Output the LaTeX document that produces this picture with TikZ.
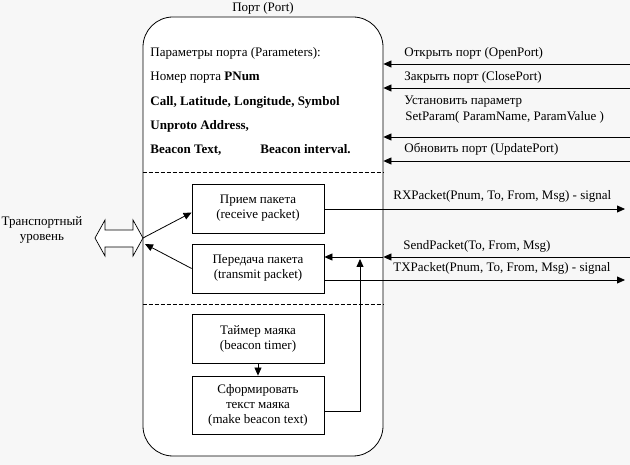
\documentclass[tikz,border=0pt]{standalone}
\usepackage{fontspec}
\setmainfont{Liberation Serif}
\usetikzlibrary{arrows.meta,positioning}
\tikzset{
  blok/.style={draw, fill=white, minimum width=132pt, minimum height=49pt,
    align=center, inner sep=1pt},
  tip/.style={-{Triangle[length=8pt,width=7pt]}},
  lbl/.style={anchor=base west, inner sep=0pt},
}
\begin{document}
\begin{tikzpicture}[x=1pt, y=-1pt, line width=0.8pt,
    font=\fontsize{13}{15}\selectfont]
  \fill [black!3] (0,0) rectangle (630,465) ;
  \useasboundingbox (0,0) rectangle (630,465) ;
  % port
  \node [draw, fill=white, rounded corners=30pt, minimum width=240pt,
    minimum height=439pt] (port) at (263,236.5) {} ;
  \node [anchor=base] (title) at (263,12) {Порт (Port)} ;
  \coordinate (d1) at (0,172) ;
  \coordinate (d2) at (0,304) ;
  \draw [dash pattern=on 4pt off 2pt] (port.west |- d1) -- (port.east |- d1) ;
  \draw [dash pattern=on 4pt off 2pt] (port.west |- d2) -- (port.east |- d2) ;
  % parameters
  \node [lbl] (p1) at (150,57) {Параметры порта (Parameters):} ;
  \node [lbl] (p2) at (150,81) {Номер порта \textbf{PNum}} ;
  \node [lbl] (p3) at (150,106) {\textbf{Call, Latitude, Longitude, Symbol}} ;
  \node [lbl] (p4) at (150,130) {\textbf{Unproto Address,}} ;
  \node [lbl] (p5) at (150,154) {\textbf{Beacon Text,}} ;
  \node [lbl] (p6) at (260,154) {\textbf{Beacon interval.}} ;
  % commands
  \foreach \y/\name in {64/open, 88/close, 137/set, 161/update} {
    \coordinate (\name) at (630,\y) ;
    \draw [tip] (\name) -- (\name -| port.east) ;
  }
  \node [lbl] (lopen) at (404,57) {Открыть порт (OpenPort)} ;
  \node [lbl] (lclose) at (404,81) {Закрыть порт (ClosePort)} ;
  \node [lbl] (lset) at (404,105) {Установить параметр} ;
  \node [lbl] (lset2) at (405,121) {SetParam( ParamName, ParamValue )} ;
  \node [lbl] (lupdate) at (404,153) {Обновить порт (UpdatePort)} ;
  % blocks
  \node [blok] (recv) at (258,208.5) {Прием пакета\\(receive packet)} ;
  \node [blok] (xmit) at (258,268.5) {Передача пакета\\(transmit packet)} ;
  \node [blok] (timer) at (258,339) {Таймер маяка\\(beacon timer)} ;
  \node [blok, minimum height=58pt] (make) at (258,405)
    {Сформировать\\текст маяка\\(make beacon text)} ;
  \draw [tip] (timer) -- (make) ;
  % signals
  \coordinate (rx) at (625,209) ;
  \coordinate (send) at (630,257) ;
  \coordinate (tx) at (625,280) ;
  \draw [tip] (recv.east |- rx) -- (rx) ;
  \draw [tip] (send) -- (send -| port.east) ;
  \draw [tip] (send -| port.east) -- (send -| xmit.east) ;
  \draw [tip] (xmit.east |- tx) -- (tx) ;
  \node [lbl] (lrx) at (393,200) {RXPacket(Pnum, To, From, Msg) - signal} ;
  \node [lbl] (lsend) at (403,250) {SendPacket(To, From, Msg)} ;
  \node [lbl] (ltx) at (393,272) {TXPacket(Pnum, To, From, Msg) - signal} ;
  \coordinate (up) at (360,259) ;
  \draw [tip] (make.east |- 0,411) -| (up) ;
  % transport level
  \draw [fill=white, line width=0.7pt] (95,238) -- (105,220) -- (105,230)
    -- (133,230) -- (133,220) -- (143,238) -- (133,256) -- (133,247)
    -- (105,247) -- (105,256) -- cycle ;
  \coordinate (dbl) at (143,238) ;
  \node [align=center, inner sep=0pt] (trans) at (42,230)
    {Транспортный\\уровень} ;
  \draw [tip] (dbl) -- ([yshift=-4pt]recv.west) ;
  \draw [tip] (xmit.west) -- ([xshift=2pt,yshift=-6pt]dbl) ;
\end{tikzpicture}
\end{document}
